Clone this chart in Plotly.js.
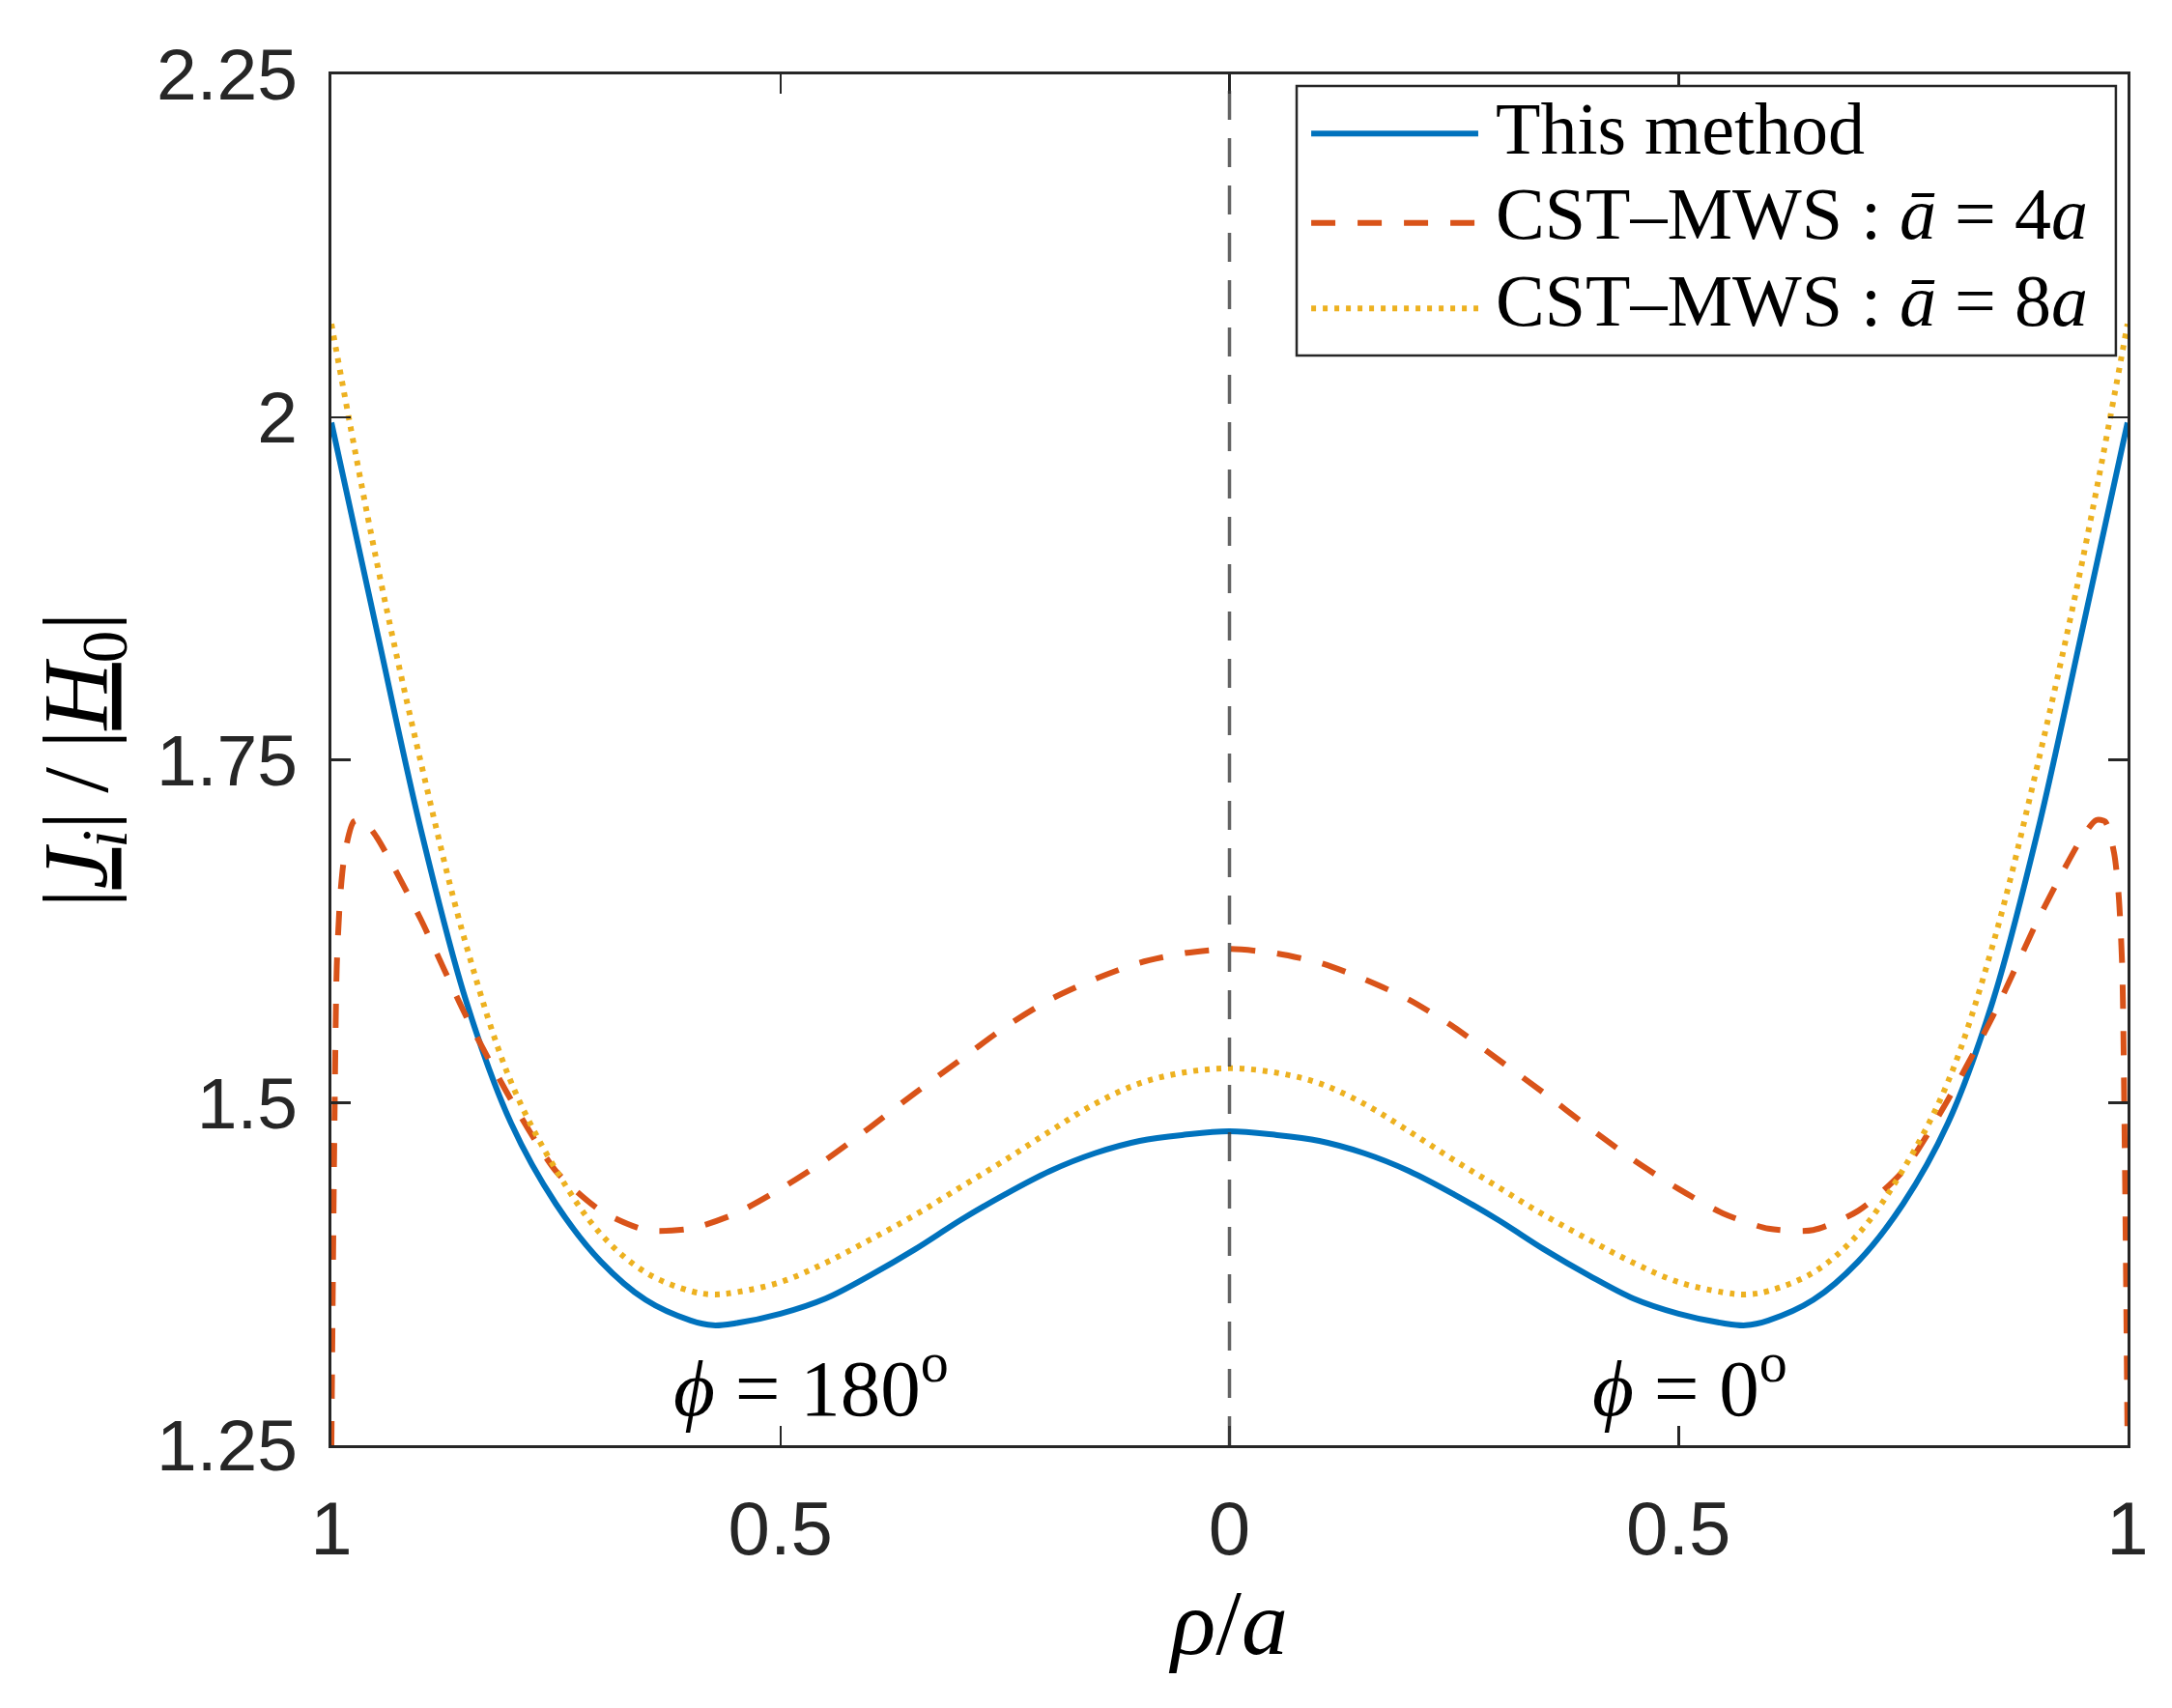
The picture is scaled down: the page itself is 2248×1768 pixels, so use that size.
<!DOCTYPE html>
<html>
<head>
<meta charset="utf-8">
<script src="https://cdn.plot.ly/plotly-3.0.1.min.js"></script>
<style>html,body{margin:0;padding:0;background:#fff;}</style>
</head>
<body>
<div id="chart" style="width:2248px;height:1768px;"></div>
<script>
// rho/a values (one half; the curves are symmetric: phi=180° on the left, phi=0° on the right)
const rhoBlue  = [0.00,0.05,0.10,0.15,0.20,0.25,0.30,0.35,0.40,0.45,0.50,0.55,0.575,0.60,0.65,0.70,0.75,0.80,0.85,0.90,0.95,1.00];
const thisMethod = [1.479,1.4765,1.472,1.463,1.450,1.433,1.414,1.393,1.374,1.357,1.346,1.339,1.3375,1.341,1.356,1.384,1.426,1.485,1.574,1.698,1.846,1.996];

const rhoRed = [0.00,0.05,0.10,0.15,0.20,0.25,0.30,0.35,0.40,0.45,0.50,0.55,0.60,0.65,0.70,0.75,0.80,0.85,0.90,0.93,0.95,0.965,0.975,0.985,0.990,0.994,0.997,1.000];
const cst4a  = [1.612,1.609,1.602,1.590,1.575,1.555,1.531,1.507,1.482,1.458,1.437,1.419,1.408,1.407,1.421,1.450,1.502,1.563,1.633,1.671,1.694,1.706,1.705,1.682,1.652,1.600,1.460,1.250];

const rhoYel = [0.00,0.05,0.10,0.15,0.20,0.25,0.30,0.35,0.40,0.45,0.50,0.55,0.575,0.60,0.65,0.70,0.75,0.80,0.85,0.90,0.95,1.00];
const cst8a  = [1.525,1.522,1.514,1.499,1.479,1.458,1.438,1.418,1.400,1.383,1.369,1.3615,1.360,1.3625,1.376,1.404,1.451,1.515,1.615,1.747,1.896,2.068];

const xTickVals = [-1,-0.5,0,0.5,1];
const xTickText = ['1','0.5','0','0.5','1'];
const yTickVals = [1.25,1.5,1.75,2,2.25];
const yTickText = ['1.25','1.5','1.75','2','2.25'];

const seriesNames = ['This method',
  'CST–MWS : <i>ā</i> = 4<i>a</i>',
  'CST–MWS : <i>ā</i> = 8<i>a</i>'];

function mirror(rho, vals){
  const x = [], y = [];
  for(let i = rho.length-1; i >= 1; i--){ x.push(-rho[i]); y.push(vals[i]); }
  for(let i = 0; i < rho.length; i++){ x.push(rho[i]); y.push(vals[i]); }
  return {x, y};
}

const cBlue = '#0072BD', cRed = '#D95319', cYel = '#EDB120';
const b = mirror(rhoBlue, thisMethod), r = mirror(rhoRed, cst4a), yl = mirror(rhoYel, cst8a);

const traces = [
  {x: b.x, y: b.y, mode:'lines', line:{color:cBlue, width:6, shape:'spline', smoothing:1}, name:seriesNames[0], showlegend:false},
  {x: r.x, y: r.y, mode:'lines', line:{color:cRed, width:6, dash:'25px,23px', shape:'spline', smoothing:0.7}, name:seriesNames[1], showlegend:false},
  {x: yl.x, y: yl.y, mode:'lines', line:{color:cYel, width:6, dash:'5px,7px', shape:'spline', smoothing:1}, name:seriesNames[2], showlegend:false}
];

const axisCol = '#262626';
const serif = 'Liberation Serif, Times New Roman, serif';
const sans = 'Liberation Sans, Arial, sans-serif';

// custom legend (long line samples as in the original)
const legX0 = 0.5374, legX1 = 0.9935, legY0 = 0.7949, legY1 = 0.9915;
const rowY = [0.9568, 0.8917, 0.8292];
const textY = [0.9607, 0.8985, 0.8350];
const sampleX0 = 0.5455, sampleX1 = 0.6385, textX = 0.6471;
const styles = [
  {color:cBlue, width:6, dash:'solid'},
  {color:cRed, width:6, dash:'25px,23px'},
  {color:cYel, width:6, dash:'5px,7px'}
];

const shapes = [
  {type:'line', xref:'x', yref:'paper', x0:0, x1:0, y0:0, y1:1,
   line:{color:'rgba(60,60,60,0.8)', width:3.5, dash:'30px,19px'}, layer:'above'},
  {type:'rect', xref:'paper', yref:'paper', x0:legX0, x1:legX1, y0:legY0, y1:legY1,
   line:{color:axisCol, width:2.5}, fillcolor:'#ffffff', layer:'above'}
];
const annotations = [];
for(let i = 0; i < 3; i++){
  shapes.push({type:'line', xref:'paper', yref:'paper', x0:sampleX0, x1:sampleX1, y0:rowY[i], y1:rowY[i],
    line:styles[i], layer:'above'});
  annotations.push({xref:'paper', yref:'paper', x:textX, y:textY[i], xanchor:'left', yanchor:'middle',
    text:seriesNames[i], showarrow:false, font:{family:serif, size:76, color:'#000'}});
}
annotations.push({xref:'x', yref:'y', x:-0.466, y:1.296, text:'<i>ϕ</i> = 180<sup>o</sup>', showarrow:false,
  xanchor:'center', yanchor:'middle', font:{family:serif, size:83, color:'#000'}});
annotations.push({xref:'x', yref:'y', x:0.513, y:1.296, text:'<i>ϕ</i> = 0<sup>o</sup>', showarrow:false,
  xanchor:'center', yanchor:'middle', font:{family:serif, size:83, color:'#000'}});

const layout = {
  width:2248, height:1768,
  margin:{l:343, r:46, t:77, b:272},
  paper_bgcolor:'#fff', plot_bgcolor:'#fff',
  showlegend:false,
  xaxis:{
    range:[-1,1], tickvals:xTickVals, ticktext:xTickText,
    showline:true, mirror:'ticks', linecolor:axisCol, linewidth:3,
    ticks:'inside', ticklen:20, tickwidth:2.5, tickcolor:axisCol,
    showgrid:false, zeroline:false, ticklabelstandoff:16,
    tickfont:{family:sans, size:78, color:axisCol},
    title:{text:'<i>ρ</i>/<i>a</i>', font:{family:serif, size:96, color:'#000'}, standoff:12}
  },
  yaxis:{
    range:[1.25,2.25], tickvals:yTickVals, ticktext:yTickText,
    showline:true, mirror:'ticks', linecolor:axisCol, linewidth:3,
    ticks:'inside', ticklen:20, tickwidth:2.5, tickcolor:axisCol,
    showgrid:false, zeroline:false, ticklabelstandoff:17,
    tickfont:{family:sans, size:75, color:axisCol},
    title:{text:'|<u><i>J</i></u><sub><i>i</i></sub>|\u2009/\u2009|<u><i>H</i></u><sub>0</sub>|', font:{family:serif, size:96, color:'#000'}, standoff:19}
  },
  shapes:shapes,
  annotations:annotations
};

Plotly.newPlot('chart', traces, layout, {staticPlot:true, displayModeBar:false});
</script>
</body>
</html>
